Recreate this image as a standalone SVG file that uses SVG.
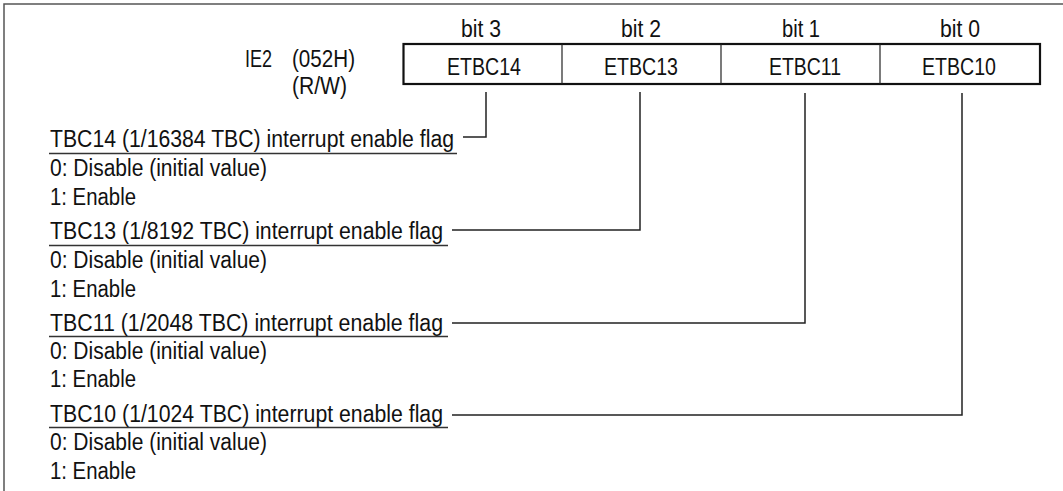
<svg xmlns="http://www.w3.org/2000/svg" width="1063" height="491" viewBox="0 0 1063 491">
<style>
text{font-family:"Liberation Sans",Arial,sans-serif;font-size:23px;fill:#111}
.m{text-anchor:middle}
.frame{fill:none;stroke:#555;stroke-width:1.5}
.box{fill:#fff;stroke:#111;stroke-width:2.2}
.div{stroke:#222;stroke-width:1.2}
.ul{stroke:#333;stroke-width:1.5}
.conn{fill:none;stroke:#222;stroke-width:1.5}
</style>
<rect width="1063" height="491" fill="#fff"/>
<path class="frame" d="M4,491 V4 H1063"/>
<g id="register">
<text x="245" y="67" textLength="27" lengthAdjust="spacingAndGlyphs">IE2</text>
<text x="292" y="67" textLength="63" lengthAdjust="spacingAndGlyphs">(052H)</text>
<text x="292" y="94" textLength="55" lengthAdjust="spacingAndGlyphs">(R/W)</text>
<rect class="box" x="403.5" y="44" width="636.5" height="40"/>
<line class="div" x1="562" y1="44" x2="562" y2="84"/>
<line class="div" x1="721" y1="44" x2="721" y2="84"/>
<line class="div" x1="880" y1="44" x2="880" y2="84"/>
<text class="m" x="481" y="37" textLength="40" lengthAdjust="spacingAndGlyphs">bit 3</text>
<text class="m" x="641" y="37" textLength="40" lengthAdjust="spacingAndGlyphs">bit 2</text>
<text class="m" x="801" y="37" textLength="38" lengthAdjust="spacingAndGlyphs">bit 1</text>
<text class="m" x="960" y="37" textLength="40" lengthAdjust="spacingAndGlyphs">bit 0</text>
<text class="m" x="484" y="75" textLength="74" lengthAdjust="spacingAndGlyphs">ETBC14</text>
<text class="m" x="641" y="75" textLength="74" lengthAdjust="spacingAndGlyphs">ETBC13</text>
<text class="m" x="805" y="75" textLength="72" lengthAdjust="spacingAndGlyphs">ETBC11</text>
<text class="m" x="959" y="75" textLength="74" lengthAdjust="spacingAndGlyphs">ETBC10</text>
</g>
<g id="bit3">
<text x="50" y="147" textLength="404" lengthAdjust="spacingAndGlyphs">TBC14 (1/16384 TBC) interrupt enable flag</text>
<line class="ul" x1="49" y1="153.5" x2="457" y2="153.5"/>
<text x="50" y="176" textLength="217" lengthAdjust="spacingAndGlyphs">0: Disable (initial value)</text>
<text x="50" y="205" textLength="86" lengthAdjust="spacingAndGlyphs">1: Enable</text>
</g>
<g id="bit2">
<text x="50" y="239" textLength="393" lengthAdjust="spacingAndGlyphs">TBC13 (1/8192 TBC) interrupt enable flag</text>
<line class="ul" x1="49" y1="245.5" x2="448" y2="245.5"/>
<text x="50" y="268" textLength="217" lengthAdjust="spacingAndGlyphs">0: Disable (initial value)</text>
<text x="50" y="297" textLength="86" lengthAdjust="spacingAndGlyphs">1: Enable</text>
</g>
<g id="bit1">
<text x="50" y="331" textLength="393" lengthAdjust="spacingAndGlyphs">TBC11 (1/2048 TBC) interrupt enable flag</text>
<line class="ul" x1="49" y1="336.5" x2="448" y2="336.5"/>
<text x="50" y="359" textLength="217" lengthAdjust="spacingAndGlyphs">0: Disable (initial value)</text>
<text x="50" y="387" textLength="86" lengthAdjust="spacingAndGlyphs">1: Enable</text>
</g>
<g id="bit0">
<text x="50" y="422" textLength="393" lengthAdjust="spacingAndGlyphs">TBC10 (1/1024 TBC) interrupt enable flag</text>
<line class="ul" x1="49" y1="427.5" x2="448" y2="427.5"/>
<text x="50" y="450" textLength="217" lengthAdjust="spacingAndGlyphs">0: Disable (initial value)</text>
<text x="50" y="479" textLength="86" lengthAdjust="spacingAndGlyphs">1: Enable</text>
</g>
<g id="connectors">
<path class="conn" d="M463,137 H486 V92"/>
<path class="conn" d="M452,230 H640 V92"/>
<path class="conn" d="M452,323 H805 V93"/>
<path class="conn" d="M452,415 H962 V93"/>
</g>
</svg>
